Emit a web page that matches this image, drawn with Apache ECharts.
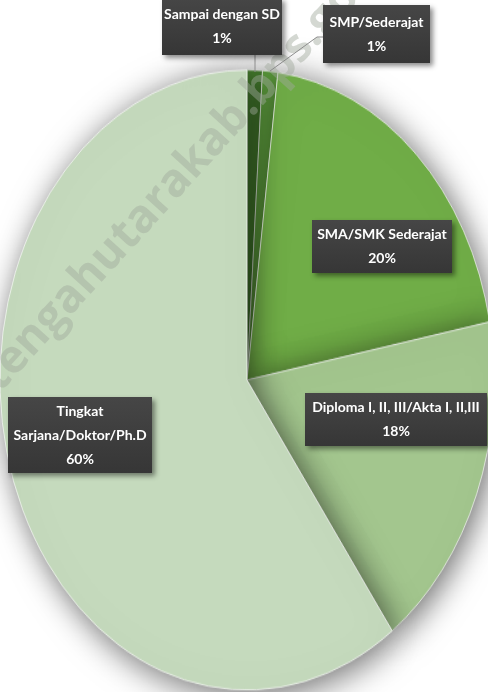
<!DOCTYPE html>
<html lang="id">
<head>
    <meta charset="UTF-8">
    <title>Pendidikan</title>
    <script src="https://cdn.jsdelivr.net/npm/echarts@6/dist/echarts.min.js"></script>
    <style>
        html, body { margin: 0; padding: 0; background: #fff; }
        #wrap { position: relative; width: 488px; height: 692px; overflow: hidden; }
        /* pie drawn as circle then stretched vertically into an ellipse */
        #pie { position: absolute; left: 0; top: 0; width: 488px; height: 552px;
               transform: scaleY(1.255); transform-origin: 0 0; }
        #labels { position: absolute; left: 0; top: 0; width: 488px; height: 692px; }
    </style>
</head>
<body>
<div id="wrap">
    <div id="pie"></div>
    <div id="labels"></div>
</div>
<script>
    // data
    var categories = ['Sampai dengan SD', 'SMP/Sederajat', 'SMA/SMK Sederajat',
        'Diploma I, II, III/Akta I, II,III', 'Tingkat\nSarjana/Doktor/Ph.D'];
    var values = [1, 1, 20, 18, 60];
    var colors = ['#4d8834', '#5f9f3f', '#70ad47', '#a3c68e', '#c5dabd'];

    // label boxes: [x, y, w, h]
    var boxes = [
        [162, -2, 120, 57],
        [323, 5, 107, 58],
        [312, 220, 140, 53],
        [305, 393, 182, 53],
        [8, 397, 144, 76]
    ];

    var pieChart = echarts.init(document.getElementById('pie'));
    pieChart.setOption({
        animation: false,
        series: [{
            type: 'pie',
            center: [247, 302.8],
            radius: 247,
            startAngle: 90,
            label: { show: false },
            labelLine: { show: false },
            itemStyle: {
                borderColor: 'rgba(255,255,255,0.8)',
                borderWidth: 0.8,
                shadowBlur: 30,
                shadowOffsetX: 4,
                shadowOffsetY: 4,
                shadowColor: 'rgba(0,0,0,0.6)'
            },
            data: categories.map(function (c, i) {
                return { name: c, value: values[i], itemStyle: { color: colors[i] } };
            })
        }]
    });

    var els = [];
    // watermark
    els.push({
        type: 'text',
        x: 7, y: 400,
        rotation: 0.83,
        z: 1,
        style: {
            text: 'tengahutarakab.bps.go.id',
            font: 'bold 46px "Open Sans", sans-serif',
            fill: 'rgba(160,168,155,0.45)',
            textAlign: 'left',
            textVerticalAlign: 'bottom'
        }
    });
    // leader lines
    els.push({
        type: 'polyline', z: 2,
        shape: { points: [[255, 55], [255, 72]] },
        style: { stroke: '#8c8c8c', lineWidth: 1, fill: null }
    });
    els.push({
        type: 'polyline', z: 2,
        shape: { points: [[323, 37], [317, 37], [270, 71]] },
        style: { stroke: '#8c8c8c', lineWidth: 1, fill: null }
    });
    // label boxes
    boxes.forEach(function (b, i) {
        els.push({
            type: 'rect', z: 3,
            shape: { x: b[0], y: b[1], width: b[2], height: b[3] },
            style: {
                fill: new echarts.graphic.LinearGradient(0, 0, 0, 1, [
                    { offset: 0, color: '#464646' },
                    { offset: 1, color: '#363636' }
                ]),
                shadowBlur: 5,
                shadowOffsetX: 3,
                shadowOffsetY: 3,
                shadowColor: 'rgba(0,0,0,0.45)'
            }
        });
        els.push({
            type: 'text', z: 4,
            x: b[0] + b[2] / 2,
            y: b[1] + b[3] / 2,
            style: {
                text: categories[i] + '\n' + values[i] + '%',
                font: 'bold 14px Lato, sans-serif',
                lineHeight: 24,
                fill: '#ffffff',
                textAlign: 'center',
                textVerticalAlign: 'middle'
            }
        });
    });

    var labelChart = echarts.init(document.getElementById('labels'));
    labelChart.setOption({ animation: false, graphic: els });
</script>
</body>
</html>
